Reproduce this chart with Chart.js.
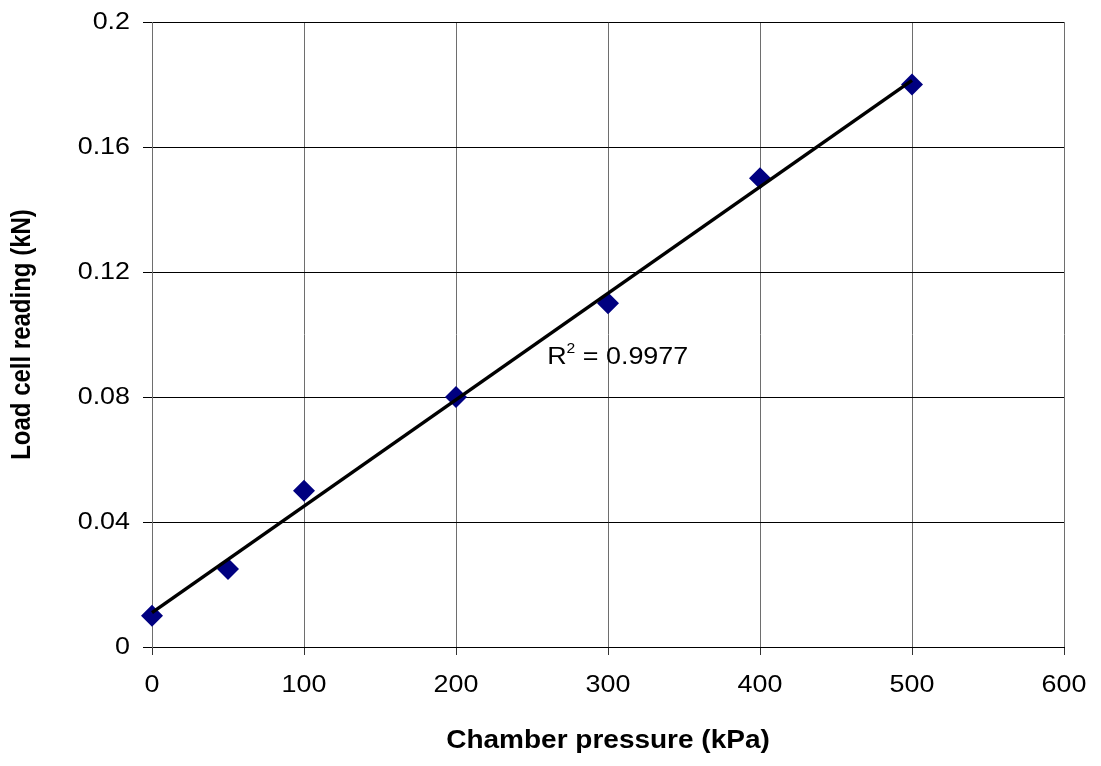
<!DOCTYPE html>
<html>
<head>
<meta charset="utf-8">
<title>Load cell calibration</title>
<script src="https://cdn.jsdelivr.net/npm/chart.js@4.4.1/dist/chart.umd.min.js"></script>
<style>
  html, body { margin: 0; padding: 0; background: #fff; }
  canvas { display: block; }
</style>
</head>
<body>
<canvas id="chart" width="1101" height="766"></canvas>
<script>
/* ---------- data ---------- */
const pressureKPa = [0, 50, 100, 200, 300, 400, 500];
const loadKN      = [0.01, 0.025, 0.05, 0.08, 0.11, 0.15, 0.18];

const xTickValues = [0, 100, 200, 300, 400, 500, 600];
const yTickValues = [0, 0.04, 0.08, 0.12, 0.16, 0.2];
const yTickLabels = ['0', '0.04', '0.08', '0.12', '0.16', '0.2'];

const rSquaredText = '0.9977';
const rLabelAt = [260, 0.0906];   // where the R² note sits (kPa, kN)

const FONT = "'Liberation Sans', Arial, Helvetica, sans-serif";
const TEXT_STRETCH = 1.12;        // text is drawn a little wider than the font

/* ---------- least-squares trend line ---------- */
function linearFit(xs, ys) {
  const n = xs.length;
  const mx = xs.reduce((a, b) => a + b, 0) / n;
  const my = ys.reduce((a, b) => a + b, 0) / n;
  let sxy = 0, sxx = 0;
  for (let i = 0; i < n; i++) {
    sxy += (xs[i] - mx) * (ys[i] - my);
    sxx += (xs[i] - mx) * (xs[i] - mx);
  }
  const slope = sxy / sxx;
  return { slope, intercept: my - slope * mx };
}

const fit = linearFit(pressureKPa, loadKN);
const xFirst = pressureKPa[0];
const xLast  = pressureKPa[pressureKPa.length - 1];
const trendPoints = [
  { x: xFirst, y: fit.intercept + fit.slope * xFirst },
  { x: xLast,  y: fit.intercept + fit.slope * xLast }
];

/* ---------- widen all text horizontally (screen x) around its anchor ---------- */
const wideText = {
  id: 'wideText',
  beforeDraw(chart) {
    const ctx = chart.ctx;
    if (ctx._plainFillText) return;
    const plain = ctx.fillText;
    ctx._plainFillText = plain;
    ctx.fillText = function (text, x, y, maxWidth) {
      const m = this.getTransform();
      const p = m.transformPoint(new DOMPoint(x, y));
      const s = new DOMMatrix()
        .translate(p.x, p.y).scale(TEXT_STRETCH, 1).translate(-p.x, -p.y)
        .multiply(m);
      this.save();
      this.setTransform(s);
      if (maxWidth === undefined) plain.call(this, text, x, y);
      else plain.call(this, text, x, y, maxWidth);
      this.restore();
    };
  }
};

/* ---------- R² annotation ---------- */
const rSquaredLabel = {
  id: 'rSquaredLabel',
  afterDatasetsDraw(chart) {
    const { ctx, scales } = chart;
    let x = scales.x.getPixelForValue(rLabelAt[0]);
    const y = scales.y.getPixelForValue(rLabelAt[1]);
    ctx.save();
    ctx.fillStyle = '#000';
    ctx.textBaseline = 'alphabetic';
    ctx.textAlign = 'left';
    ctx.font = `24px ${FONT}`;
    ctx.fillText('R', x, y);
    x += ctx.measureText('R').width * TEXT_STRETCH;
    ctx.font = `14px ${FONT}`;
    ctx.fillText('2', x, y - 11);
    x += ctx.measureText('2').width * TEXT_STRETCH;
    ctx.font = `24px ${FONT}`;
    ctx.fillText(' = ' + rSquaredText, x, y);
    ctx.restore();
  }
};

/* ---------- chart ---------- */
new Chart(document.getElementById('chart'), {
  type: 'scatter',
  data: {
    datasets: [
      {
        type: 'line',
        label: 'Linear fit',
        data: trendPoints,
        borderColor: '#000',
        borderWidth: 3.5,
        pointRadius: 0,
        fill: false,
        clip: false,
        order: 0
      },
      {
        label: 'Load cell reading',
        data: pressureKPa.map((p, i) => ({ x: p, y: loadKN[i] })),
        pointStyle: 'rectRot',
        pointRadius: 11,
        pointBackgroundColor: '#000080',
        pointBorderColor: '#000080',
        pointBorderWidth: 0,
        clip: false,
        order: 1
      }
    ]
  },
  options: {
    responsive: false,
    animation: false,
    layout: { padding: { top: 22, right: 37, left: 0, bottom: 0 } },
    plugins: {
      legend: { display: false },
      tooltip: { enabled: false }
    },
    scales: {
      x: {
        type: 'linear',
        min: 0,
        max: 600,
        afterBuildTicks: s => { s.ticks = xTickValues.map(v => ({ value: v })); },
        afterFit: s => { s.height = 119; s.paddingLeft = 0; s.paddingRight = 0; },
        grid: { color: '#6e6e6e', lineWidth: 1, tickLength: 8, tickColor: '#333' },
        border: { color: '#000', width: 1 },
        ticks: {
          color: '#000',
          padding: 16,
          maxRotation: 0,
          font: { family: FONT, size: 24 },
          callback: v => String(v)
        },
        title: {
          display: true,
          text: 'Chamber pressure (kPa)',
          color: '#000',
          padding: { top: 0, bottom: 10 },
          font: { family: FONT, size: 25, weight: 'bold' }
        }
      },
      y: {
        type: 'linear',
        min: 0,
        max: 0.2,
        afterBuildTicks: s => { s.ticks = yTickValues.map(v => ({ value: v })); },
        afterFit: s => { s.width = 152; s.paddingTop = 0; s.paddingBottom = 0; },
        grid: { color: '#000', lineWidth: 1, tickLength: 9 },
        border: { color: '#6e6e6e', width: 1 },
        ticks: {
          color: '#000',
          padding: 13,
          font: { family: FONT, size: 24 },
          callback: (v, i) => yTickLabels[i]
        },
        title: {
          display: true,
          text: 'Load cell reading (kN)',
          color: '#000',
          padding: { top: 8, bottom: 0 },
          font: { family: FONT, size: 24, weight: 'bold' }
        }
      }
    }
  },
  plugins: [wideText, rSquaredLabel]
});
</script>
</body>
</html>
